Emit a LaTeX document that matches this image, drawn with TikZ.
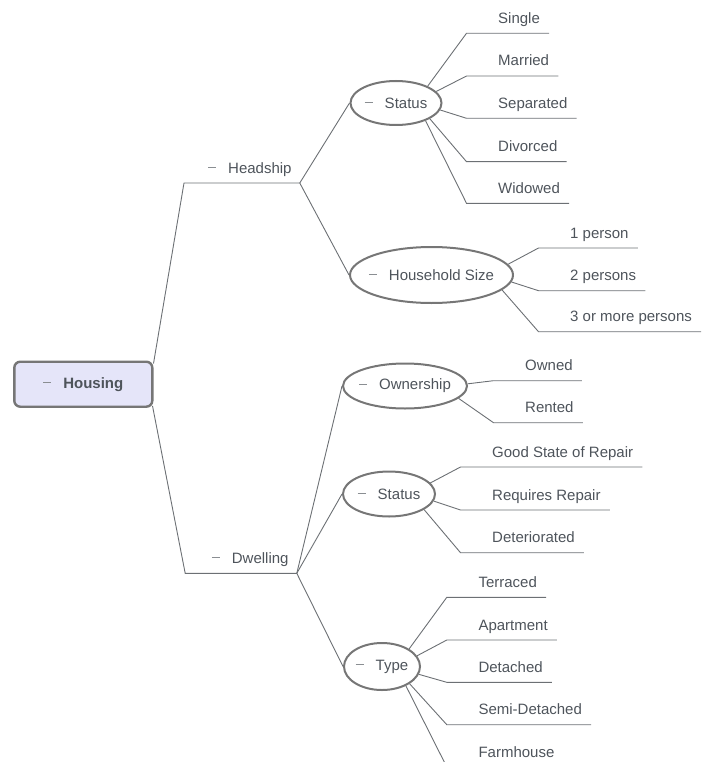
\documentclass[tikz,border=0pt]{standalone}
\usepackage{fontspec}
\setmainfont{Liberation Sans}
\usetikzlibrary{shapes.geometric}

\definecolor{ink}{HTML}{4E545B}
\definecolor{wire}{HTML}{6C7074}
\definecolor{rim}{HTML}{767676}
\definecolor{rootfill}{HTML}{E5E5F9}
\definecolor{minus}{HTML}{8A8E92}

% collapse marker in front of every topic that has children
\newcommand{\foldmark}{\textcolor{minus}{\rule[5pt]{8pt}{1.3pt}}\hspace{12pt}}

\tikzset{
  x=1pt, y=-1pt,
  every node/.style={text=ink, font=\fontsize{15}{18}\selectfont},
  leaf/.style={anchor=base west, inner sep=0pt},
  branch/.style={anchor=base west, inner sep=0pt},
  topic/.style={ellipse, draw=rim, line width=2pt, inner sep=0pt},
  root/.style={rectangle, rounded corners=6pt, draw=rim, line width=2.4pt,
               fill=rootfill, minimum width=138pt, minimum height=45pt,
               font=\fontsize{15}{18}\selectfont\bfseries},
  link/.style={draw=wire, line width=0.9pt},
}

\begin{document}
\begin{tikzpicture}
\path[use as bounding box] (0,0) rectangle (705,762);
\clip (0,0) rectangle (705,762);

% root
\node[root] (housing) at (83.3,384.2) {\foldmark Housing};

% first level
\node[branch] (headship) at (208,173) {\foldmark Headship};
\coordinate (headship-l) at ([shift={(-24pt,-10pt)}]headship.base west);
\coordinate (headship-r) at ([shift={(8pt,-10pt)}]headship.base east);

\node[branch] (dwelling) at (211.7,563.3) {\foldmark Dwelling};
\coordinate (dwelling-l) at ([shift={(-26.5pt,-10pt)}]dwelling.base west);
\coordinate (dwelling-r) at ([shift={(8pt,-10pt)}]dwelling.base east);

\draw[link] ([yshift=-3pt]housing.north east) -- (headship-l) -- (headship-r);
\draw[link] ([shift={(-1pt,2pt)}]housing.south east) -- (dwelling-l) -- (dwelling-r);

% second level
\node[topic, minimum width=91pt, minimum height=44pt] (status1) at (396,103)
  {\makebox[0pt]{\foldmark Status}};
\node[topic, minimum width=163pt, minimum height=56pt] (household) at (431.5,275)
  {\makebox[0pt]{\foldmark Household Size}};
\node[topic, minimum width=124pt, minimum height=45pt] (ownership) at (405,386)
  {\makebox[0pt]{\foldmark Ownership}};
\node[topic, minimum width=92pt, minimum height=45pt] (status2) at (389,494)
  {\makebox[0pt]{\foldmark Status}};
\node[topic, minimum width=76pt, minimum height=47pt] (type) at (382,666.5)
  {\makebox[0pt]{\foldmark Type}};

\draw[link] (headship-r) -- (status1.west);
\draw[link] (headship-r) -- (household.west);
\draw[link] (dwelling-r) -- (ownership.west);
\draw[link] (dwelling-r) -- (status2.west);
\draw[link] (dwelling-r) -- (type.west);

% leaves: name / text / baseline / start angle on the parent ellipse
\foreach \parent/\tx/\list in {
  status1/498/{single/Single/23.3/28, married/Married/66/16,
               separated/Separated/108.3/-9, divorced/Divorced/151.7/-25,
               widowed/Widowed/193.3/-31},
  household/570/{one/1 person/238/8.5, two/2 persons/280.7/-5,
               three/3 or more persons/321.7/-12},
  ownership/525/{owned/Owned/370.7/2.5, rented/Rented/412.7/-13},
  status2/492/{good/Good State of Repair/457/15,
               requires/Requires Repair/500/-9.5,
               deteriorated/Deteriorated/542.7/-24},
  type/478.3/{terraced/Terraced/587.3/33, apartment/Apartment/630/17,
               detached/Detached/672.3/-12, semi/Semi-Detached/714.7/-32,
               farm/Farmhouse/757/-39}}
{
  \foreach \name/\txt/\by/\ang in \list {
    \node[leaf] (\name) at (\tx,\by) {\txt};
    \draw[link] (\parent.\ang)
      -- ([shift={(-31.5pt,-10pt)}]\name.base west)
      -- ([shift={(9pt,-10pt)}]\name.base east);
  }
}
\end{tikzpicture}
\end{document}
